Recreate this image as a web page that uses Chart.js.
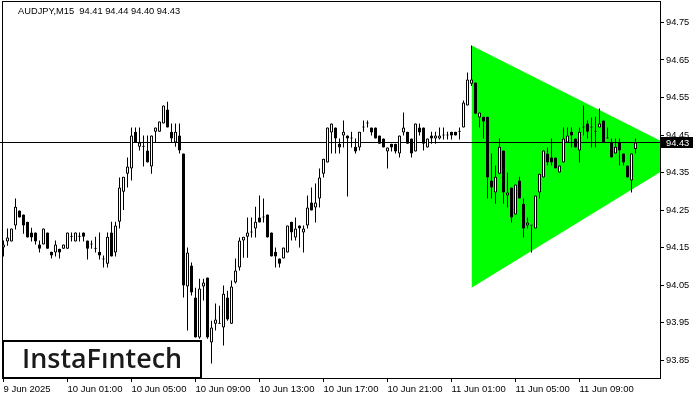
<!DOCTYPE html>
<html>
<head>
<meta charset="utf-8">
<script src="https://cdn.jsdelivr.net/npm/chart.js@4.4.1/dist/chart.umd.min.js"></script>
<style>
  html, body { margin: 0; padding: 0; background: #ffffff; }
  #wrap { width: 700px; height: 400px; }
</style>
</head>
<body>
<div id="wrap"><canvas id="chart" width="700" height="400"></canvas></div>
<script>
const symbol = "AUDJPY";
const timeframe = "M15";

// OHLC per 15 min candle, index 0 = 9 Jun 21:00
const opens = [
    94.150, 94.166, 94.166, 94.209, 94.249, 94.238, 94.219, 94.190, 94.190, 94.158,
    94.158, 94.190, 94.139, 94.137, 94.147, 94.147, 94.147, 94.179, 94.166, 94.179,
    94.190, 94.169, 94.158, 94.147, 94.139, 94.118, 94.107, 94.190, 94.137, 94.219,
    94.299, 94.347, 94.361, 94.459, 94.419, 94.419, 94.409, 94.366, 94.459, 94.459,
    94.481, 94.518, 94.459, 94.430, 94.449, 94.401, 94.046, 94.102, 94.017, 93.910,
    94.046, 94.070, 93.897, 93.947, 93.947, 93.937, 94.017, 93.947, 94.057, 94.097,
    94.169, 94.179, 94.190, 94.201, 94.230, 94.230, 94.238, 94.190, 94.139, 94.121,
    94.121, 94.137, 94.219, 94.177, 94.209, 94.190, 94.209, 94.270, 94.257, 94.281,
    94.347, 94.377, 94.457, 94.470, 94.427, 94.449, 94.449, 94.441, 94.419, 94.417,
    94.470, 94.481, 94.470, 94.470, 94.449, 94.441, 94.406, 94.427, 94.427, 94.401,
    94.457, 94.459, 94.441, 94.406, 94.470, 94.470, 94.417, 94.449, 94.441, 94.441,
    94.449, 94.449, 94.459, 94.459, 94.459, 94.470, 94.529, 94.587, 94.590, 94.497,
    94.499, 94.499, 94.329, 94.297, 94.347, 94.409, 94.289, 94.310, 94.238, 94.329,
    94.267, 94.209, 94.209, 94.201, 94.297, 94.337, 94.401, 94.390, 94.390, 94.350,
    94.377, 94.430, 94.459, 94.441, 94.409, 94.470, 94.481, 94.470, 94.459, 94.470,
    94.489, 94.441, 94.430, 94.401, 94.430, 94.401, 94.369, 94.329, 94.413
];
const highs = [
    94.169, 94.201, 94.201, 94.281, 94.249, 94.238, 94.219, 94.203, 94.190, 94.169,
    94.201, 94.190, 94.139, 94.169, 94.147, 94.158, 94.190, 94.190, 94.190, 94.190,
    94.190, 94.169, 94.169, 94.179, 94.190, 94.129, 94.190, 94.219, 94.219, 94.337,
    94.339, 94.390, 94.470, 94.470, 94.470, 94.449, 94.449, 94.449, 94.470, 94.486,
    94.529, 94.539, 94.481, 94.481, 94.481, 94.401, 94.150, 94.110, 94.043, 94.067,
    94.067, 94.070, 93.955, 94.001, 93.995, 94.049, 94.035, 94.062, 94.121, 94.177,
    94.179, 94.230, 94.230, 94.259, 94.289, 94.281, 94.238, 94.190, 94.150, 94.121,
    94.150, 94.209, 94.219, 94.230, 94.209, 94.209, 94.289, 94.310, 94.321, 94.361,
    94.387, 94.470, 94.481, 94.470, 94.441, 94.489, 94.449, 94.459, 94.441, 94.459,
    94.489, 94.489, 94.470, 94.470, 94.449, 94.441, 94.417, 94.427, 94.427, 94.449,
    94.510, 94.459, 94.441, 94.481, 94.481, 94.470, 94.441, 94.459, 94.459, 94.470,
    94.470, 94.459, 94.459, 94.459, 94.470, 94.542, 94.617, 94.689, 94.590, 94.510,
    94.499, 94.499, 94.401, 94.369, 94.441, 94.409, 94.350, 94.310, 94.318, 94.339,
    94.281, 94.230, 94.209, 94.289, 94.347, 94.409, 94.417, 94.441, 94.390, 94.369,
    94.470, 94.470, 94.470, 94.441, 94.470, 94.529, 94.489, 94.497, 94.499, 94.521,
    94.489, 94.470, 94.441, 94.441, 94.441, 94.401, 94.369, 94.401, 94.441
];
const lows = [
    94.126, 94.155, 94.166, 94.198, 94.230, 94.187, 94.177, 94.166, 94.158, 94.137,
    94.158, 94.147, 94.121, 94.126, 94.121, 94.147, 94.147, 94.166, 94.166, 94.166,
    94.166, 94.118, 94.147, 94.137, 94.118, 94.097, 94.097, 94.126, 94.126, 94.201,
    94.250, 94.310, 94.329, 94.430, 94.409, 94.366, 94.377, 94.347, 94.430, 94.459,
    94.481, 94.470, 94.430, 94.419, 94.401, 94.017, 93.929, 94.022, 93.910, 93.907,
    94.009, 93.907, 93.841, 93.929, 93.947, 93.889, 93.955, 93.947, 94.054, 94.089,
    94.123, 94.123, 94.177, 94.177, 94.217, 94.217, 94.177, 94.126, 94.097, 94.097,
    94.121, 94.137, 94.169, 94.169, 94.150, 94.137, 94.201, 94.249, 94.217, 94.257,
    94.337, 94.377, 94.401, 94.401, 94.401, 94.417, 94.286, 94.417, 94.401, 94.409,
    94.459, 94.470, 94.449, 94.441, 94.427, 94.417, 94.361, 94.406, 94.401, 94.390,
    94.449, 94.427, 94.390, 94.406, 94.449, 94.409, 94.417, 94.427, 94.427, 94.438,
    94.438, 94.438, 94.438, 94.449, 94.438, 94.470, 94.529, 94.581, 94.507, 94.470,
    94.441, 94.281, 94.281, 94.267, 94.347, 94.267, 94.257, 94.217, 94.238, 94.281,
    94.177, 94.201, 94.137, 94.201, 94.281, 94.337, 94.369, 94.369, 94.361, 94.350,
    94.377, 94.430, 94.417, 94.417, 94.377, 94.449, 94.441, 94.417, 94.417, 94.470,
    94.430, 94.441, 94.390, 94.401, 94.369, 94.369, 94.337, 94.297, 94.401
];
const closes = [
    94.158, 94.177, 94.201, 94.259, 94.230, 94.209, 94.177, 94.177, 94.166, 94.147,
    94.201, 94.147, 94.129, 94.158, 94.137, 94.158, 94.190, 94.179, 94.190, 94.179,
    94.179, 94.147, 94.158, 94.147, 94.129, 94.118, 94.179, 94.126, 94.209, 94.310,
    94.339, 94.366, 94.449, 94.430, 94.430, 94.419, 94.377, 94.449, 94.470, 94.486,
    94.529, 94.470, 94.441, 94.459, 94.409, 94.049, 94.137, 94.030, 93.910, 94.041,
    94.057, 93.910, 93.937, 93.958, 93.947, 94.027, 93.958, 94.046, 94.089, 94.169,
    94.179, 94.190, 94.190, 94.219, 94.217, 94.230, 94.177, 94.126, 94.126, 94.107,
    94.150, 94.209, 94.190, 94.201, 94.201, 94.201, 94.257, 94.249, 94.270, 94.337,
    94.387, 94.470, 94.481, 94.441, 94.417, 94.459, 94.441, 94.441, 94.406, 94.459,
    94.470, 94.481, 94.457, 94.441, 94.427, 94.417, 94.417, 94.417, 94.406, 94.449,
    94.470, 94.427, 94.401, 94.481, 94.457, 94.427, 94.441, 94.441, 94.449, 94.449,
    94.449, 94.449, 94.449, 94.449, 94.459, 94.537, 94.598, 94.598, 94.507, 94.510,
    94.486, 94.337, 94.310, 94.339, 94.419, 94.297, 94.297, 94.230, 94.318, 94.281,
    94.201, 94.217, 94.209, 94.289, 94.347, 94.409, 94.377, 94.377, 94.361, 94.369,
    94.441, 94.449, 94.449, 94.417, 94.459, 94.470, 94.459, 94.470, 94.459, 94.481,
    94.430, 94.441, 94.390, 94.419, 94.409, 94.377, 94.337, 94.401, 94.430
];

// time axis: candle index of each label
const timeTicks = [0, 16, 32, 48, 64, 80, 96, 112, 128, 144];
const timeLabels = ["9 Jun 2025", "10 Jun 01:00", "10 Jun 05:00", "10 Jun 09:00", "10 Jun 13:00",
    "10 Jun 17:00", "10 Jun 21:00", "11 Jun 01:00", "11 Jun 05:00", "11 Jun 09:00"];
const priceTicks = [93.85, 93.95, 94.05, 94.15, 94.25, 94.35, 94.45, 94.55, 94.65, 94.75];

// symmetrical triangle (bullish), apex lies past the right edge
const triangleX = [117, 171.2];
const triangleTop = [94.689, 94.397];
const triangleBottom = [94.043, 94.397];

const lastClose = closes[closes.length - 1];

const wicks = highs.map((h, i) => ({ x: i, y: [lows[i], h] }));
const bodies = opens.map((o, i) => ({ x: i, y: [Math.min(o, closes[i]), Math.max(o, closes[i])] }));
const bodyColors = opens.map((o, i) => closes[i] > o ? "#ffffff" : "#000000");

const tickFont = { family: "'Liberation Sans', Arial, sans-serif", size: 9.3 };
const timeFont = { family: "'Liberation Sans Narrow', 'Liberation Sans', sans-serif", size: 9.5 };

// frame, header, price label and logo
const overlay = {
    id: "overlay",
    afterDraw(chart) {
        const c = chart.ctx;
        const area = chart.chartArea;
        const py = chart.scales.y.getPixelForValue(lastClose);
        c.save();

        c.strokeStyle = "#000";
        c.lineWidth = 1;
        c.strokeRect(2.5, 1.5, area.right - 2, area.bottom - 1);

        c.fillStyle = "#000";
        c.font = "9.3px 'Liberation Sans', Arial, sans-serif";
        c.textBaseline = "alphabetic";
        c.textAlign = "left";
        const last = closes.length - 1;
        c.fillText(symbol + "," + timeframe + "  " + opens[last].toFixed(2) + " " + highs[last].toFixed(2) +
            " " + lows[last].toFixed(2) + " " + closes[last].toFixed(2), 18, 14);

        c.fillRect(area.right + 1, Math.round(py) - 5, 32, 11);
        c.fillStyle = "#fff";
        c.textBaseline = "middle";
        c.fillText(lastClose.toFixed(2), area.right + 6, py + 0.5);

        // logo box
        c.fillStyle = "#fff";
        c.fillRect(3, 341, 198, 37);
        c.lineWidth = 2;
        c.strokeRect(3, 341, 198, 37);
        c.fillStyle = "#1a1a1a";
        c.textBaseline = "alphabetic";
        c.font = "600 28px 'Open Sans', sans-serif";
        const w = c.measureText("InstaFıntech").width;
        c.font = "600 " + (28 * 160 / w).toFixed(1) + "px 'Open Sans', sans-serif";
        c.fillText("InstaFıntech", 22, 368);

        c.restore();
    }
};

const ctx = document.getElementById("chart").getContext("2d");
new Chart(ctx, {
    type: "bar",
    data: {
        datasets: [
            {
                type: "bar", data: bodies, backgroundColor: bodyColors, borderColor: "#000",
                borderWidth: 1, borderSkipped: false, barThickness: 3, minBarLength: 1,
                grouped: false, inflateAmount: 0, order: 0
            },
            {
                type: "bar", data: wicks, backgroundColor: "#000", borderWidth: 0,
                barThickness: 1, grouped: false, inflateAmount: 0, order: 1
            },
            {
                type: "line", data: [{ x: -2, y: lastClose }, { x: 170, y: lastClose }],
                borderColor: "#000", borderWidth: 1, pointRadius: 0, fill: false, order: 2
            },
            {
                type: "line", data: triangleX.map((x, k) => ({ x: x, y: triangleTop[k] })),
                borderWidth: 0, pointRadius: 0, backgroundColor: "#00ff00", fill: "+1", order: 3
            },
            {
                type: "line", data: triangleX.map((x, k) => ({ x: x, y: triangleBottom[k] })),
                borderWidth: 0, pointRadius: 0, fill: false, order: 4
            }
        ]
    },
    options: {
        responsive: false,
        animation: false,
        devicePixelRatio: 1,
        events: [],
        layout: { padding: 0 },
        plugins: {
            legend: { display: false },
            tooltip: { enabled: false }
        },
        scales: {
            x: {
                type: "linear",
                position: "bottom",
                min: -0.875,
                max: 164.125,
                offset: false,
                border: { display: false },
                grid: { display: true, offset: false, drawOnChartArea: false, drawTicks: true, tickLength: 4, color: "#000" },
                ticks: {
                    color: "#000", font: timeFont, align: "start", padding: 2,
                    maxRotation: 0, autoSkip: false,
                    callback: (v, i) => timeLabels[i]
                },
                afterBuildTicks: s => { s.ticks = timeTicks.map(v => ({ value: v })); },
                afterFit: s => { s.height = 22; s.paddingLeft = 0; s.paddingRight = 0; }
            },
            y: {
                type: "linear",
                position: "right",
                min: 93.802,
                max: 94.81,
                beginAtZero: false,
                border: { display: false },
                grid: { display: true, drawOnChartArea: false, drawTicks: true, tickLength: 4, color: "#000" },
                ticks: {
                    color: "#000", font: tickFont, padding: 2,
                    callback: v => v.toFixed(2)
                },
                afterBuildTicks: s => { s.ticks = priceTicks.map(v => ({ value: v })); },
                afterFit: s => { s.width = 40; s.paddingTop = 0; s.paddingBottom = 0; }
            }
        }
    },
    plugins: [overlay]
});
</script>
</body>
</html>
